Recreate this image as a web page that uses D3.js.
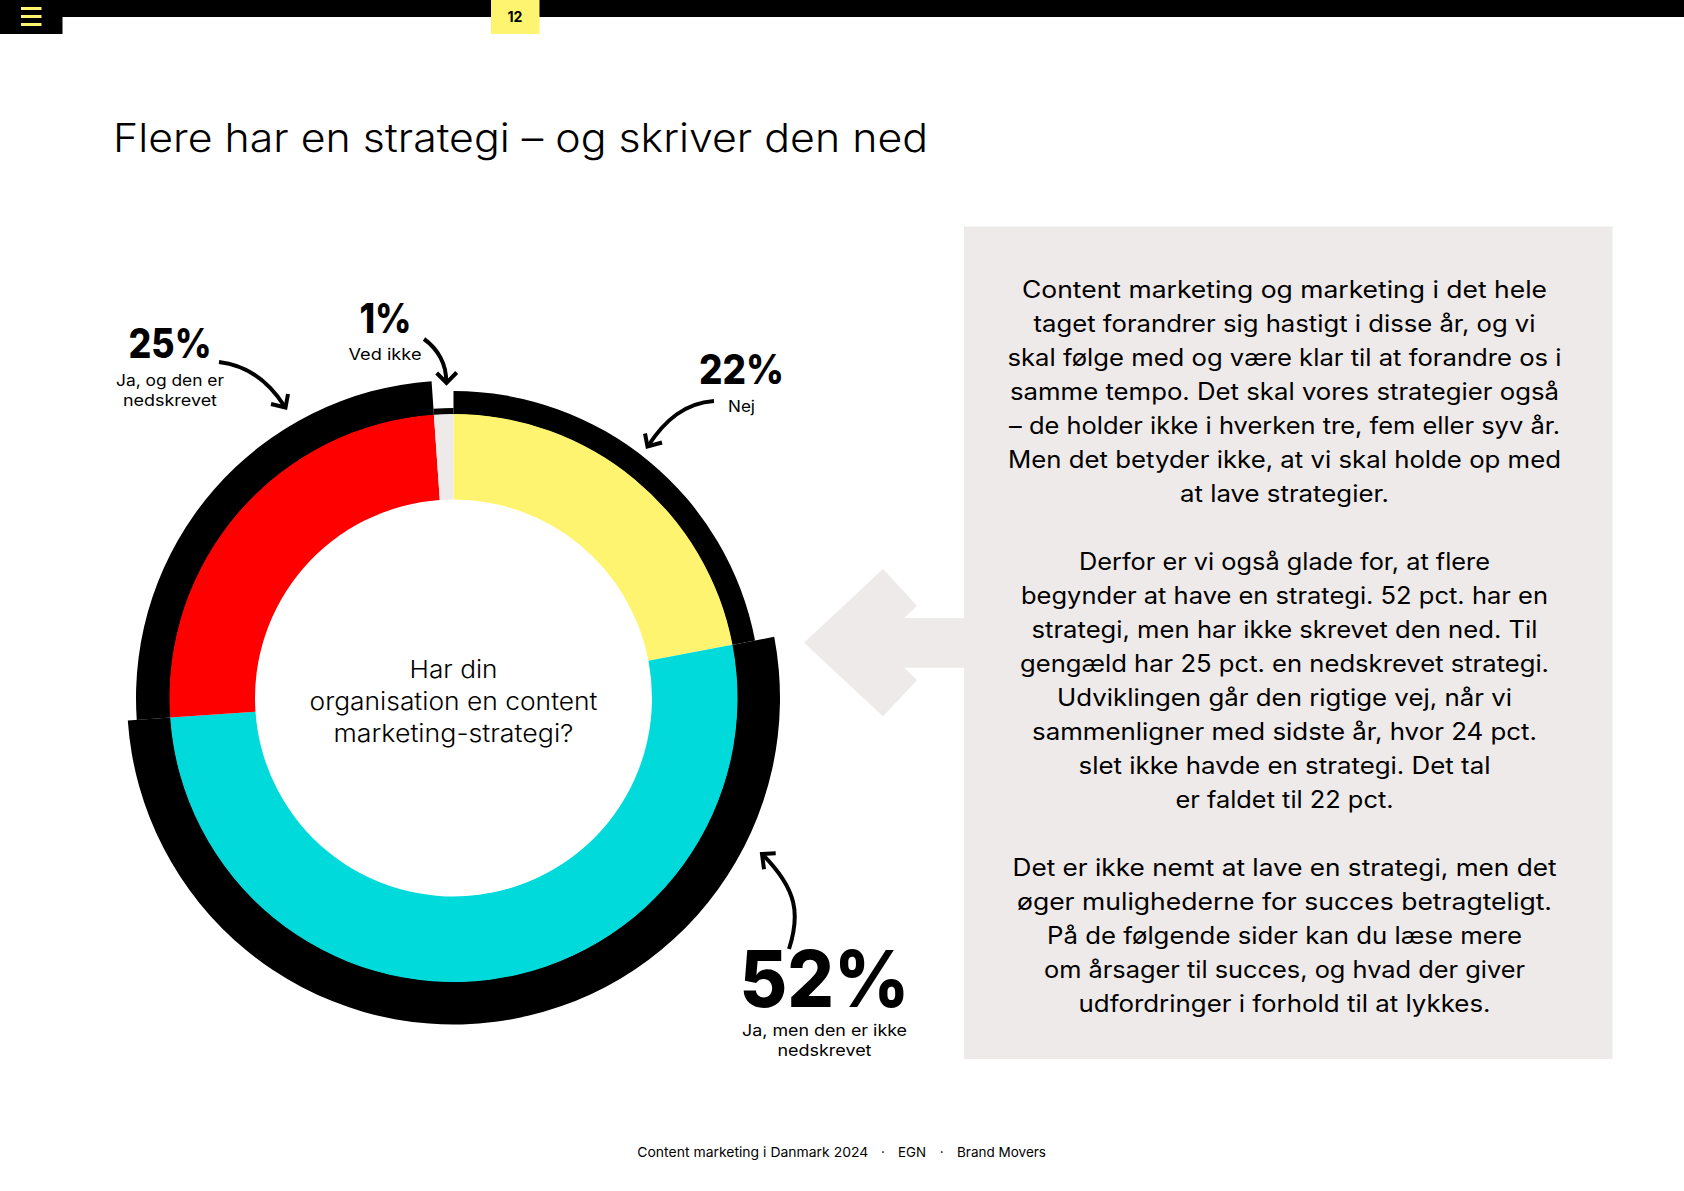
<!DOCTYPE html>
<html><head><meta charset="utf-8">
<script src="https://cdn.jsdelivr.net/npm/d3@7"></script>
<style>html,body{margin:0;padding:0;background:#fff}svg{display:block}text{font-family:Inter,"Noto Sans",sans-serif;fill:#000}</style>
</head><body><svg id="c" width="1684" height="1191" viewBox="0 0 1684 1191"></svg>
<script>
// ---- data ----
const categories = ["Nej", "Ja, men den er ikke nedskrevet", "Ja, og den er nedskrevet", "Ved ikke"];
const values = [22, 51.9, 25, 1.1];
const colors = ["#FFF46F", "#00DADA", "#FF0000", "#EDEAE9"];
const valueLabels = ["22%", "52%", "25%", "1%"];
const labelLines = [["Nej"], ["Ja, men den er ikke", "nedskrevet"], ["Ja, og den er", "nedskrevet"], ["Ved ikke"]];
const centerLines = ["Har din", "organisation en content", "marketing-strategi?"];
const titleText = "Flere har en strategi – og skriver den ned";
const pageNumber = "12";
const bodyLines = [
"Content marketing og marketing i det hele","taget forandrer sig hastigt i disse år, og vi","skal følge med og være klar til at forandre os i","samme tempo. Det skal vores strategier også","– de holder ikke i hverken tre, fem eller syv år.","Men det betyder ikke, at vi skal holde op med","at lave strategier.","",
"Derfor er vi også glade for, at flere","begynder at have en strategi. 52 pct. har en","strategi, men har ikke skrevet den ned. Til","gengæld har 25 pct. en nedskrevet strategi.","Udviklingen går den rigtige vej, når vi","sammenligner med sidste år, hvor 24 pct.","slet ikke havde en strategi. Det tal","er faldet til 22 pct.","",
"Det er ikke nemt at lave en strategi, men det","øger mulighederne for succes betragteligt.","På de følgende sider kan du læse mere","om årsager til succes, og hvad der giver","udfordringer i forhold til at lykkes."];
const footerParts = ["Content marketing i Danmark 2024", "·", "EGN", "·", "Brand Movers"];

// ---- layout ----
const YEL = "#FFF46F", GREY = "#EDEAE9";
const cx = 453.5, cy = 698, rInner = 198.5, rOuter = 284;
// set width of each body line as measured in the reference
const bodyWidths = [525,502,554,549,551,553,209,0,411,527,506,529,455,505,412,218,0,544,535,475,481,412];
const svg = d3.select("#c");

function put(str, x, y, size, weight, width, anchor) {
  const t = svg.append("text").text(str).attr("x", x).attr("y", y)
    .attr("font-size", size).attr("font-weight", weight)
    .attr("text-anchor", anchor || "middle");
  if (width) t.attr("textLength", width).attr("lengthAdjust", "spacingAndGlyphs");
  return t;
}

// page furniture
svg.append("rect").attr("x",0).attr("y",0).attr("width",1684).attr("height",17).attr("fill","#000");
svg.append("rect").attr("x",0).attr("y",0).attr("width",62.5).attr("height",34).attr("fill","#000");
svg.append("rect").attr("x",491).attr("y",0).attr("width",48.5).attr("height",34).attr("fill",YEL);
[7,15,23].forEach(y=>svg.append("rect").attr("x",21).attr("y",y).attr("width",20.5).attr("height",3).attr("fill",YEL));
put(pageNumber, 515, 21.5, 15, 700, 15);
put(titleText, 113, 151.5, 39.5, 300, 815, "start");

// text panel + its arrow
svg.append("rect").attr("x",964).attr("y",226.5).attr("width",648.5).attr("height",832.5).attr("fill",GREY);
const panelArrow = [[804,642.7],[883,569],[917,605.7],[904.3,618],[965,618],[965,667.7],[904.3,667.7],[917,680],[883,716.3]];
svg.append("path").attr("d", d3.line()(panelArrow)+"Z").attr("fill",GREY);

// donut
const pie = d3.pie().sort(null).value(d=>d)(values);
const ringOuter = d3.scaleLinear().domain([1.1,22,25,51.9]).range([290,307,317.5,326.5]);
const g = svg.append("g").attr("transform",`translate(${cx},${cy})`);
const band = d3.arc().innerRadius(rOuter-0.5).outerRadius(d=>ringOuter(d.data));
g.selectAll("path.band").data(pie).join("path").attr("class","band").attr("d",band).attr("fill","#000");
const arc = d3.arc().innerRadius(rInner).outerRadius(rOuter);
g.selectAll("path.slice").data(pie).join("path").attr("class","slice").attr("d",arc).attr("fill",(d,i)=>colors[i]);

// center
put(centerLines[0], cx, 678, 24.5, 350, 88);
put(centerLines[1], cx, 710, 24.5, 350, 288);
put(centerLines[2], cx, 742, 24.5, 350, 240);

// value labels
const big = 41;
put(valueLabels[0], 741.5, 384.3, big, 800, 85);
put(valueLabels[2], 170, 358.3, big, 800, 83);
put(valueLabels[3], 385.5, 332.5, big, 800, 52);
put(valueLabels[1], 824.5, 1006.5, 79, 800, 170);
const sm = 16;
put(labelLines[0][0], 741.5, 411.5, sm, 400, 27);
put(labelLines[2][0], 170, 386, sm, 400, 108);
put(labelLines[2][1], 170, 406, sm, 400, 94);
put(labelLines[3][0], 385, 360, sm, 400, 73);
put(labelLines[1][0], 824.5, 1036, sm, 400, 165);
put(labelLines[1][1], 824.5, 1056, sm, 400, 94);

// callout arrows
const arrows = [
 ["M714,401C685,403 665,420 648,446","M645,433.5L647.5,446.5L662,442.5"],
 ["M219,362C245,365 268,380 285,407","M271,404L285.5,407.5L288,394"],
 ["M424,339C438,349 447,365 446,382","M436.7,373L446.5,383L456.7,372.5"],
 ["M789,949C800,915 798,890 762,854","M775.7,853.3L762,854L764,869.3"]
];
arrows.forEach(a=>a.forEach(d=>svg.append("path").attr("d",d).attr("fill","none").attr("stroke","#000").attr("stroke-width",4)));

// body text
const bodyX = 1284.5, bodyY0 = 298, bodyStep = 34, bodySize = 23.6;
bodyLines.forEach((s,i)=>{
  if(s) put(s, bodyX, bodyY0+i*bodyStep, bodySize, 400, bodyWidths[i]);
});

// footer
const fy = 1157.3;
put(footerParts[0], 637.3, fy, 13.6, 400, 231, "start");
put(footerParts[1], 883, fy, 13.6, 400);
put(footerParts[2], 898, fy, 13.6, 400, 28, "start");
put(footerParts[3], 941.7, fy, 13.6, 400);
put(footerParts[4], 957, fy, 13.6, 400, 89, "start");
</script></body></html>
